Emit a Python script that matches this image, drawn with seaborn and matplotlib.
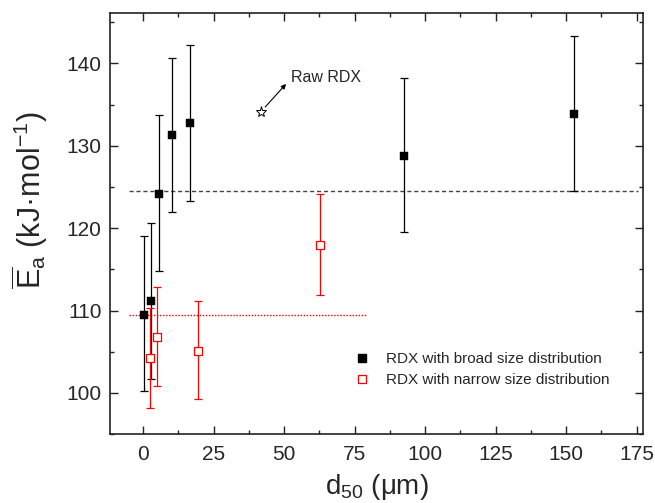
import numpy as np
import pandas as pd
import matplotlib
matplotlib.use("Agg")
import matplotlib.pyplot as plt
from matplotlib.lines import Line2D
import seaborn as sns

# ---- data ----
broad_d50 = [0.5, 2.8, 5.7, 10.4, 16.7, 92.6, 152.8]
broad_ea = [109.5, 111.2, 124.2, 131.3, 132.7, 128.8, 133.8]
broad_err_hi = [119.0, 120.6, 133.7, 140.7, 142.2, 138.2, 143.3]
broad_err_lo = [100.2, 101.7, 114.8, 121.9, 123.3, 119.5, 124.5]

narrow_d50 = [2.4, 5.0, 19.4, 62.8]
narrow_ea = [104.2, 106.8, 105.1, 118.0]
narrow_err_hi = [110.3, 112.9, 111.2, 124.1]
narrow_err_lo = [98.2, 100.8, 99.2, 111.9]

broad_mean = 124.5
broad_mean_range = [-5, 175.5]
narrow_mean = 109.5
narrow_mean_range = [-5, 79]

raw_d50 = [41.7]
raw_ea = [134.1]

legend_labels = ["RDX with broad size distribution", "RDX with narrow size distribution"]

sns.set_theme(style="ticks")
plt.rcParams['font.family'] = ['Liberation Sans', 'DejaVu Sans']
plt.rcParams['mathtext.fontset'] = 'custom'
plt.rcParams['mathtext.rm'] = 'Liberation Sans'
plt.rcParams['mathtext.it'] = 'Liberation Sans:italic'

fig = plt.figure(figsize=(6.55, 5.03), dpi=100)
ax = fig.add_axes([0.168, 0.137, 0.814, 0.837])

df_b = pd.DataFrame({"d50": broad_d50, "ea": broad_ea})
df_n = pd.DataFrame({"d50": narrow_d50, "ea": narrow_ea})

# mean lines
ax.plot(broad_mean_range, [broad_mean, broad_mean], ls=(0, (3, 2)), color='#444444', lw=1.0, zorder=1)
ax.plot(narrow_mean_range, [narrow_mean, narrow_mean], ls=(0, (1, 1.2)), color='red', lw=1.0, zorder=1)

# error bars
b_lo = np.array(broad_ea) - np.array(broad_err_lo)
b_hi = np.array(broad_err_hi) - np.array(broad_ea)
ax.errorbar(broad_d50, broad_ea, yerr=[b_lo, b_hi], fmt='none', ecolor='black',
            elinewidth=0.9, capsize=2.7, capthick=0.9, zorder=2)
n_lo = np.array(narrow_ea) - np.array(narrow_err_lo)
n_hi = np.array(narrow_err_hi) - np.array(narrow_ea)
ax.errorbar(narrow_d50, narrow_ea, yerr=[n_lo, n_hi], fmt='none', ecolor='red',
            elinewidth=0.9, capsize=2.7, capthick=0.9, zorder=2)

sns.scatterplot(data=df_b, x="d50", y="ea", marker='s', s=34, color='black',
                edgecolor='black', linewidth=0.3, ax=ax, zorder=3, legend=False)
sns.scatterplot(data=df_n, x="d50", y="ea", marker='s', s=30, facecolor='white',
                edgecolor='red', linewidth=0.9, ax=ax, zorder=3, legend=False)

# raw RDX
ax.plot(raw_d50, raw_ea, marker='*', ms=8, mfc='white', mec='black', mew=0.7, ls='none', zorder=3)
ax.annotate("", xy=(50.7, 137.5), xytext=(43.3, 134.7),
            arrowprops=dict(arrowstyle='-|>', color='black', lw=0.8, mutation_scale=7,
                            shrinkA=0, shrinkB=0))
ax.text(52.5, 138.3, "Raw RDX", fontsize=11.5, ha='left', va='center')

ax.set_xlim(-11.7, 177.3)
ax.set_ylim(95, 146.1)
ax.set_xticks([0, 25, 50, 75, 100, 125, 150, 175])
ax.set_yticks([100, 110, 120, 130, 140])
ax.set_xticks(np.arange(12.5, 176, 25), minor=True)
ax.set_yticks(np.arange(95, 146.2, 10), minor=True)
ax.tick_params(which='both', direction='in', top=True, right=True, color='#222222', width=1.0)
ax.tick_params(which='major', length=5.5, labelsize=15, pad=6)
ax.tick_params(axis='x', which='major', pad=8)
ax.tick_params(which='minor', length=3)
for sp in ax.spines.values():
    sp.set_visible(True)
    sp.set_color('#222222')
    sp.set_linewidth(1.2)

ax.set_xlabel(r"d$_{50}$ (μm)", fontsize=20, labelpad=0)
ax.set_ylabel(r"$\overline{\mathrm{E}}_{\mathrm{a}}$ (kJ·mol$^{-1}$)", fontsize=22)
ax.yaxis.set_label_coords(-0.112, 0.556)
ax.xaxis.set_label_coords(0.5, -0.09)

handles = [
    Line2D([], [], marker='s', ls='none', color='black', ms=6, mec='black'),
    Line2D([], [], marker='s', ls='none', mfc='white', mec='red', ms=6, mew=0.9),
]
ax.legend(handles, legend_labels, loc='upper left', bbox_to_anchor=(0.443, 0.213),
          frameon=False, fontsize=11, handletextpad=1.1, labelspacing=0.45,
          handlelength=1.0, borderpad=0)

fig.savefig("out.png", dpi=100)
